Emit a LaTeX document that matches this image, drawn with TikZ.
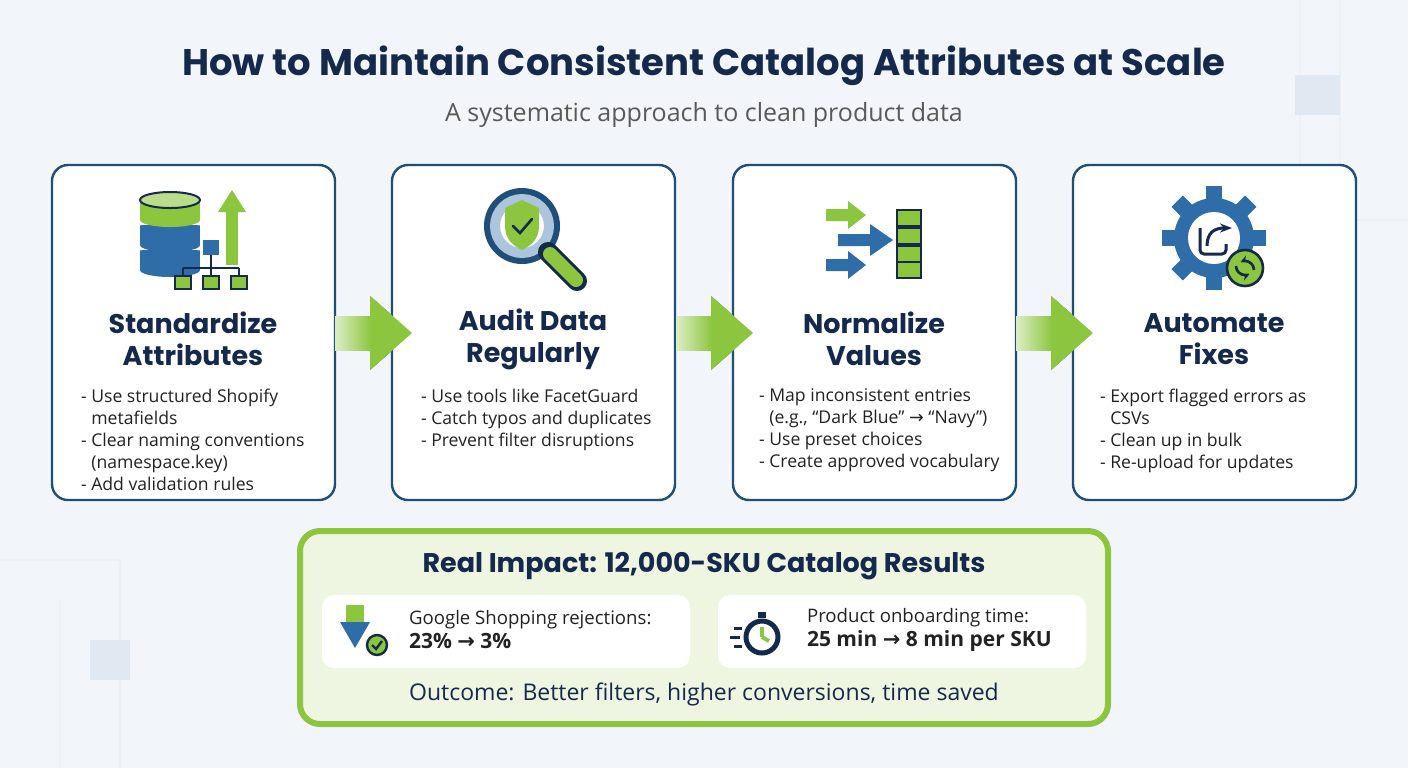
\documentclass[tikz,border=0pt]{standalone}
\usepackage{fontspec}
\setmainfont{Open Sans}
\newfontfamily\headfont{Poppins}
\newfontfamily\symfont{DejaVu Sans}
\newcommand{\rar}{{\symfont →}}
\usetikzlibrary{arrows.meta,shapes.geometric}
\definecolor{navy}{HTML}{14294B}
\definecolor{bord}{HTML}{1F4E79}
\definecolor{iblue}{HTML}{2F6DA8}
\definecolor{igreen}{HTML}{8CC63F}
\definecolor{bg}{HTML}{F2F5FA}
\definecolor{gfill}{HTML}{EEF6E2}
\definecolor{gbord}{HTML}{8CC63F}
\definecolor{txt}{HTML}{222222}
\tikzset{
 card/.style={draw=bord,line width=1.2pt,rounded corners=8pt,fill=white},
 head/.style={font=\headfont\bfseries\fontsize{13.5}{16}\selectfont,text=navy,align=center},
 bul/.style={font=\fontsize{8.8}{11}\selectfont,text=txt,align=left,anchor=north west},
 flow/.style={left color=igreen!5,right color=igreen,draw=none},
 sub/.style={fill=white,rounded corners=6pt,draw=none},
}
\begin{document}
\begin{tikzpicture}[x=0.5pt,y=-0.5pt]
\fill[bg] (0,0) rectangle (1408,768);
\useasboundingbox (0,0) rectangle (1408,768);
\draw[bord!8,line width=1pt] (1300,0)--(1300,220)--(1408,220) (1340,0)--(1340,180) (0,560)--(120,560)--(120,768) (60,600)--(60,768);
\fill[iblue!15] (1295,75) rectangle (1340,115);
\fill[iblue!15] (90,640) rectangle (130,680);
\node[font=\headfont\bfseries\fontsize{18.5}{22}\selectfont,text=navy] (title) at (704,66) {How to Maintain Consistent Catalog Attributes at Scale};
\node[font=\fontsize{12.5}{15}\selectfont,text=black!65] (subt) at (704,115) {A systematic approach to clean product data};
\foreach \x/\n in {295/a1,636/a2,976/a3}{
 \fill[flow] (\x,316) -- (\x+75,316) -- (\x+75,296) -- (\x+117,333) -- (\x+75,370) -- (\x+75,350) -- (\x,350) -- cycle;
}
\foreach \x in {52,392,733,1073}{ \draw[card] (\x,165) rectangle ++(283,335); }
\foreach \x in {295,636,976}{
 \fill[igreen] (\x+75,316) -- (\x+75,296) -- (\x+117,333) -- (\x+75,370) -- (\x+75,350) -- cycle;
 \fill[left color=igreen!30,right color=igreen] (\x+40,316) rectangle (\x+76,350);
}
\node[head] (h1) at (193,339) {Standardize\\Attributes};
\node[head] (h2) at (533,339) {Audit Data\\Regularly};
\node[head] (h3) at (874,339) {Normalize\\Values};
\node[head] (h4) at (1214,339) {Automate\\Fixes};
\node[bul] (b1) at (74,382) {- Use structured Shopify\\\hphantom{- }metafields\\- Clear naming conventions\\\hphantom{- }(namespace.key)\\- Add validation rules};
\node[bul] (b2) at (414,382) {- Use tools like FacetGuard\\- Catch typos and duplicates\\- Prevent filter disruptions};
\node[bul] (b3) at (752,382) {- Map inconsistent entries\\\hphantom{- }(e.g., “Dark Blue” \rar{} “Navy”)\\- Use preset choices\\- Create approved vocabulary};
\node[bul] (b4) at (1093,382) {- Export flagged errors as\\\hphantom{- }CSVs\\- Clean up in bulk\\- Re-upload for updates};
% icon 1
\begin{scope}
 \foreach \yy/\c in {250/iblue,225/iblue,200/igreen}{
  \fill[\c] (140,\yy) rectangle (200,\yy+20);
  \fill[\c] (170,\yy+20) ellipse (30 and 7);
  \draw[white,line width=1.5pt] (140,\yy) arc (180:360:30 and 7);
 }
 \fill[igreen!60] (170,200) ellipse (30 and 8);
 \draw[navy,line width=1pt] (170,200) ellipse (30 and 8);
 \fill[igreen] (226,210) rectangle (238,265);
 \fill[igreen] (218,212) -- (232,190) -- (246,212) -- cycle;
 \draw[navy,line width=1.3pt] (211,250)--(211,268) (183,268)--(239,268) (183,268)--(183,276) (211,268)--(211,276) (239,268)--(239,276);
 \fill[iblue] (203,240) rectangle (219,255);
 \foreach \xx in {183,211,239}{\draw[navy,line width=1pt,fill=igreen] (\xx-8,276) rectangle (\xx+8,289);}
\end{scope}
% icon 2
\begin{scope}
 \draw[bord,line width=4pt] (522,226) circle (34);
 \draw[iblue!40,line width=5pt] (522,226) circle (27);
 \draw[navy,line width=10pt,line cap=round] (548,252)--(577,281);
 \draw[igreen,line width=7pt,line cap=round] (550,254)--(576,280);
 \fill[igreen] (505,208) -- (522,200) -- (539,208) -- (539,226) .. controls (539,240) and (530,246) .. (522,250) .. controls (514,246) and (505,240) .. (505,226) -- cycle;
 \draw[navy,line width=1.3pt,line cap=round] (513,226)--(520,233)--(532,219);
\end{scope}
% icon 3
\begin{scope}
 \foreach \yy/\c in {215/igreen,265/iblue}{
  \fill[\c] (826,\yy-6) -- (848,\yy-6) -- (848,\yy-14) -- (866,\yy) -- (848,\yy+14) -- (848,\yy+6) -- (826,\yy+6) -- cycle;
 }
 \fill[iblue] (838,234) -- (870,234) -- (870,224) -- (893,240) -- (870,256) -- (870,246) -- (838,246) -- cycle;
 \foreach \yy in {210,228,246,262}{\draw[navy,line width=1pt,fill=igreen] (897,\yy) rectangle (921,\yy+16);}
\end{scope}
% icon 4
\begin{scope}
 \foreach \a in {0,45,...,315}{\fill[iblue,rotate around={\a:(1214,238)}] (1206,186) rectangle (1222,200);}
 \fill[iblue] (1214,238) circle (40);
 \fill[white] (1214,238) circle (26);
 \draw[navy,line width=1.5pt,rounded corners=2pt] (1200,228) -- (1200,254) -- (1226,254) -- (1226,244);
 \draw[navy,line width=1.5pt,-{Stealth[length=6pt]}] (1207,246) .. controls (1207,232) and (1215,228) .. (1232,228);
 \fill[igreen] (1245,268) circle (18);
 \draw[navy,line width=1.3pt] (1245,268) circle (18);
 \draw[navy,line width=1.3pt,-{Stealth[length=4pt]}] (1236,266) arc (180:60:9);
 \draw[navy,line width=1.3pt,-{Stealth[length=4pt]}] (1254,270) arc (0:-120:9);
\end{scope}
% bottom panel
\draw[draw=gbord,line width=3pt,fill=gfill,rounded corners=10pt] (300,531) rectangle (1108,724);
\node[font=\headfont\bfseries\fontsize{13.5}{16}\selectfont,text=navy] (rt) at (704,566) {Real Impact: 12,000-SKU Catalog Results};
\fill[sub] (322,595) rectangle (690,668);
\fill[sub] (718,595) rectangle (1086,668);
\node[font=\fontsize{9.3}{12}\selectfont,anchor=west,align=left,text=txt] (s1) at (402,630) {Google Shopping rejections:\\{\bfseries\fontsize{10.5}{13}\selectfont 23\% \rar{} 3\%}};
\node[font=\fontsize{9.3}{12}\selectfont,anchor=west,align=left,text=txt] (s2) at (800,630) {Product onboarding time:\\{\bfseries\fontsize{10.5}{13}\selectfont 25 min \rar{} 8 min per SKU}};
\fill[igreen] (346,605) rectangle (364,625);
\fill[iblue] (340,622) -- (370,622) -- (355,648) -- cycle;
\fill[igreen] (377,645) circle (10);
\draw[navy,line width=1.2pt] (377,645) circle (10);
\draw[navy,line width=1.2pt] (372,645)--(376,649)--(382,641);
\draw[navy,line width=2.5pt] (762,637) circle (16);
\fill[navy] (758,612) rectangle (766,618);
\draw[igreen,line width=2pt] (762,637)--(762,627) (762,637)--(769,641);
\draw[navy,line width=1.5pt] (734,628)--(742,628) (730,637)--(740,637) (734,646)--(742,646);
\node[font=\fontsize{11.5}{14}\selectfont,text=navy] (out) at (704,694) {Outcome: Better filters, higher conversions, time saved};
\end{tikzpicture}
\end{document}
